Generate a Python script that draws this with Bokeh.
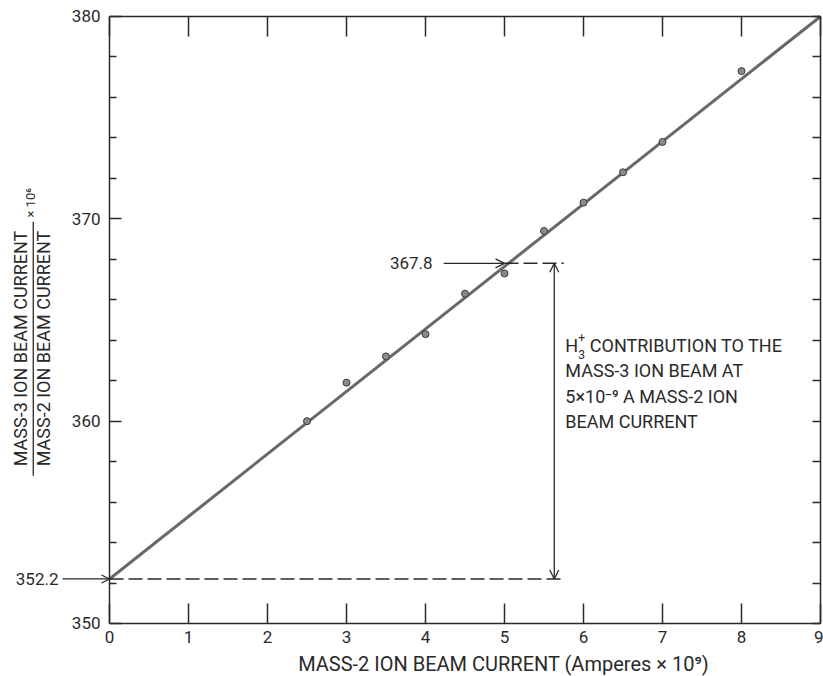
from math import pi
from bokeh.plotting import figure
from bokeh.models import Range1d, LinearAxis, FixedTicker, Label, Arrow, OpenHead
from bokeh.embed import file_html
from bokeh.resources import INLINE

# ---- data ----
current = [2.5, 3.0, 3.5, 4.0, 4.5, 5.0, 5.5, 6.0, 6.5, 7.0, 8.0]          # A x 1e9
ratio = [360.0, 361.9, 363.2, 364.3, 366.3, 367.3, 369.4, 370.8, 372.3, 373.8, 377.3]
fit_x = [0.0, 9.0]
fit_y = [352.2, 380.0]
intercept = 352.2
value_at_5 = 367.8
x_at_value = 5.0
x_ticks = [0, 1, 2, 3, 4, 5, 6, 7, 8, 9]
y_ticks = [350, 360, 370, 380]
y_minor = [352, 354, 356, 358, 362, 364, 366, 368, 372, 374, 376, 378]
y_right = [350, 352, 354, 356, 358, 360, 362, 364, 366, 368, 370, 372, 374, 376, 378, 380]
x_lim = (0, 9)
y_lim = (350, 380)

FONT = "Roboto"
INK = "#2a2a2a"

# the frame covers the whole canvas; the real axes sit at fixed locations inside it,
# so that the margin texts (which Bokeh clips to the frame) stay visible
p = figure(width=823, height=676, x_range=Range1d(-1.38, 9.038), y_range=Range1d(347.38, 380.79),
           output_backend="svg", toolbar_location=None,
           x_axis_location=None, y_axis_location=None,
           min_border_left=0, min_border_right=0, min_border_top=0, min_border_bottom=0)
p.xgrid.visible = False
p.ygrid.visible = False
p.outline_line_color = None
p.background_fill_color = "white"


def make_axis(loc, bounds, ticks, minor=None, tick_in=8, minor_in=0, labels=True, standoff=8):
    ax = LinearAxis(fixed_location=loc, bounds=bounds,
                    ticker=FixedTicker(ticks=ticks, minor_ticks=minor or []),
                    major_tick_in=tick_in, major_tick_out=0,
                    minor_tick_in=minor_in, minor_tick_out=0,
                    axis_line_color=INK, axis_line_width=1.5,
                    major_tick_line_color=INK, major_tick_line_width=1.5,
                    minor_tick_line_color=INK, minor_tick_line_width=1.5,
                    major_label_standoff=standoff,
                    major_label_text_font=FONT, major_label_text_font_size="17px",
                    major_label_text_color=INK)
    if not labels:
        ax.major_label_overrides = {t: "" for t in ticks}
    return ax


p.add_layout(make_axis(y_lim[0], x_lim, x_ticks, tick_in=20, standoff=8), "below")
p.add_layout(make_axis(y_lim[1], x_lim, x_ticks, tick_in=20, labels=False), "above")
p.add_layout(make_axis(x_lim[0], y_lim, y_ticks, minor=y_minor, tick_in=12, minor_in=7, standoff=9), "left")
p.add_layout(make_axis(x_lim[1], y_lim, y_right, tick_in=8, labels=False), "right")

# fitted line and measurements
p.line(fit_x, fit_y, line_color="#686868", line_width=3)
p.scatter(current, ratio, size=7, fill_color="#8a8a8a", line_color="#3a3a3a", line_width=1)

# dashed guide lines
x_guide_end = 5.75
p.line([0, x_guide_end], [intercept, intercept], line_color=INK, line_width=1.5, line_dash="14 5")
p.line([x_at_value, x_guide_end], [value_at_5, value_at_5], line_color=INK, line_width=1.5, line_dash="14 5")

# vertical double arrow
x_arrow = 5.63
p.add_layout(Arrow(x_start=x_arrow, y_start=intercept, x_end=x_arrow, y_end=value_at_5,
                   line_color=INK, line_width=1.3,
                   start=OpenHead(size=9, line_color=INK, line_width=1.3),
                   end=OpenHead(size=9, line_color=INK, line_width=1.3)))


def label(x, y, text, size="18px", angle=0.0, align="left"):
    p.add_layout(Label(x=x, y=y, text=text, angle=angle, text_font=FONT, text_font_size=size,
                       text_color=INK, text_align=align, text_baseline="middle"))


# 367.8 label and arrow
label(4.09, value_at_5, f"{value_at_5}", size="17px", align="right")
p.add_layout(Arrow(x_start=4.23, y_start=value_at_5, x_end=x_at_value, y_end=value_at_5,
                   line_color=INK, line_width=1.3,
                   end=OpenHead(size=9, line_color=INK, line_width=1.3)))

# 352.2 label and arrow at the left
label(-0.646, intercept, f"{intercept}", size="17px", align="right")
p.add_layout(Arrow(x_start=-0.595, y_start=intercept, x_end=0, y_end=intercept,
                   line_color=INK, line_width=1.3,
                   end=OpenHead(size=8, line_color=INK, line_width=1.3)))

# annotation block
ann_x = 5.77
label(ann_x, 363.74, "H")
label(ann_x + 0.165, 364.15, "+", size="12px")
label(ann_x + 0.165, 363.3, "3", size="12px")
label(ann_x + 0.31, 363.74, "CONTRIBUTION TO THE")
ann_lines = ["MASS-3 ION BEAM AT", "5\u00d710\u207b\u2079 A MASS-2 ION", "BEAM CURRENT"]
ann_y = [362.51, 361.22, 359.99]
for t, yy in zip(ann_lines, ann_y):
    label(ann_x, yy, t)

# y-axis title as a fraction
label(-1.125, 363.59, "MASS-3 ION BEAM CURRENT", size="18px", angle=pi / 2, align="center")
label(-0.835, 363.59, "MASS-2 ION BEAM CURRENT", size="18px", angle=pi / 2, align="center")
p.add_layout(Arrow(x_start=-0.965, y_start=357.3, x_end=-0.965, y_end=369.85,
                   line_color=INK, line_width=1.3, end=None))
label(-1.0, 370.8, "\u00d7 10\u2076", size="13px", angle=pi / 2, align="center")

# x-axis title
label(5.02, 348.02, "MASS-2 ION BEAM CURRENT  (Amperes \u00d7 10\u2079)", size="20px", align="center")

open("out.html", "w").write(file_html(p, INLINE))
